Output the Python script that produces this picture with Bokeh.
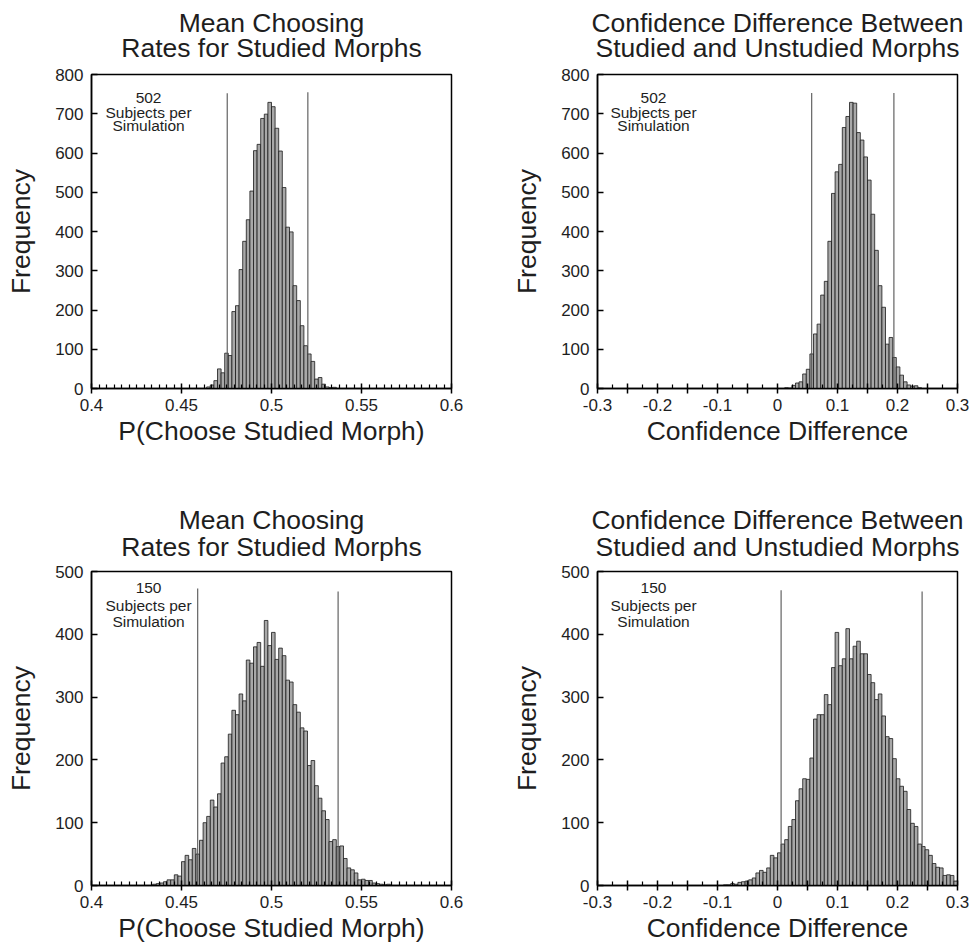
from bokeh.plotting import figure
from bokeh.models import Range1d, FixedTicker, Label
from bokeh.layouts import row, column
from bokeh.core.properties import value
from bokeh.embed import file_html
from bokeh.resources import INLINE

FONT = "Liberation Sans"
TXT = "#1e1e1e"

# ---------------- data ----------------
# P(choose studied morph), 502 subjects per simulation; bins of 0.002 starting at 0.464
choose502_bin = 0.002
choose502_start = 0.464
choose502_counts = [4, 9, 20, 50, 40, 90, 84, 196, 211, 303, 375, 430, 503, 606, 622, 688, 699, 729,
                    718, 663, 605, 512, 411, 399, 262, 224, 160, 109, 88, 69, 24, 28, 11, 4, 2, 3]
choose502_ci = [0.4754, 0.5202]
choose502_ci_top = [752, 755]

# Confidence difference, 502 subjects; bins of 0.006 starting at 0.012
conf502_bin = 0.006
conf502_start = 0.012
conf502_counts = [2, 1, 8, 14, 17, 37, 49, 88, 139, 164, 238, 273, 375, 497, 552, 571, 665, 693, 729,
                  727, 652, 633, 590, 531, 444, 352, 262, 207, 113, 130, 79, 55, 34, 17, 9, 6, 7, 2]
conf502_ci = [0.057, 0.194]
conf502_ci_top = [753, 753]

# P(choose studied morph), 150 subjects; bins of 0.002 starting at 0.434
choose150_bin = 0.002
choose150_start = 0.434
choose150_counts = [2, 3, 4, 6, 9, 9, 17, 15, 38, 48, 41, 59, 50, 72, 100, 110, 136, 125, 146, 195, 205,
                    241, 279, 272, 305, 294, 359, 354, 380, 387, 349, 422, 382, 403, 360, 378, 366, 327,
                    324, 288, 276, 251, 246, 191, 199, 159, 139, 119, 105, 70, 73, 62, 63, 43, 28, 25,
                    20, 9, 10, 8, 8, 4, 3, 2, 1, 2]
choose150_ci = [0.459, 0.537]
choose150_ci_top = [473, 468]

# Confidence difference, 150 subjects; bins of 0.006 starting at -0.09
conf150_bin = 0.006
conf150_start = -0.09
conf150_counts = [1, 1, 3, 2, 5, 6, 7, 9, 12, 20, 24, 21, 28, 48, 44, 52, 66, 73, 94, 105, 135, 154, 170,
                  169, 203, 265, 272, 272, 304, 288, 347, 403, 350, 361, 409, 361, 381, 389, 369, 369,
                  336, 323, 296, 305, 270, 237, 234, 202, 170, 158, 150, 121, 99, 94, 66, 62, 57, 48,
                  35, 29, 28, 16, 17, 16, 7]
conf150_ci = [0.006, 0.241]
conf150_ci_top = [470, 468]

# axes / tick labels
choose_ticks = [0.4, 0.45, 0.5, 0.55, 0.6]
choose_tick_labels = ["0.4", "0.45", "0.5", "0.55", "0.6"]
conf_ticks = [-0.3, -0.25, -0.2, -0.15, -0.1, -0.05, 0.0, 0.05, 0.1, 0.15, 0.2, 0.25, 0.3]
conf_tick_labels = ["-0.3", "", "-0.2", "", "-0.1", "", "0", "", "0.1", "", "0.2", "", "0.3"]
y_ticks_top = [0, 100, 200, 300, 400, 500, 600, 700, 800]
y_ticks_bottom = [0, 100, 200, 300, 400, 500]

title_choose = ["Mean Choosing", "Rates for Studied Morphs"]
title_conf = ["Confidence Difference Between", "Studied and Unstudied Morphs"]
xlabel_choose = "P(Choose Studied Morph)"
xlabel_conf = "Confidence Difference"
ylabel = "Frequency"
note_lines_502 = ["502", "Subjects per", "Simulation"]
note_lines_150 = ["150", "Subjects per", "Simulation"]

LW, RW = 485, 486


def make_title(lines, width, height, xcenter, baselines):
    t = figure(width=width, height=height, output_backend="svg", toolbar_location=None,
               x_range=Range1d(0, width), y_range=Range1d(0, height),
               x_axis_type=None, y_axis_type=None,
               min_border_left=0, min_border_right=0, min_border_top=0, min_border_bottom=0)
    t.grid.visible = False
    t.outline_line_color = None
    t.background_fill_color = "white"
    t.border_fill_color = "white"
    t.text(x=[xcenter] * len(lines), y=baselines, text=lines, text_align="center",
           text_baseline="alphabetic", text_font=value(FONT), text_font_size=value("26.5px"),
           text_color=TXT)
    return t


def make_panel(kind, start, binw, counts, ci, ci_top, ymax, yticks, note_lines, note_y,
               width, height, mb_left, mb_right, mb_top, mb_bottom):
    if kind == "choose":
        xr = (0.4, 0.6)
        ticks, labels = choose_ticks, choose_tick_labels
        minor = [0.4 + i * (0.05 / 12) for i in range(49) if i % 12 != 0]
        xlabel = xlabel_choose
        note_x = 0.4317
    else:
        xr = (-0.3, 0.3)
        ticks, labels = conf_ticks, conf_tick_labels
        minor = [-0.3 + 0.025 * (2 * i + 1) for i in range(12)]
        xlabel = xlabel_conf
        note_x = -0.2067

    p = figure(width=width, height=height, output_backend="svg", toolbar_location=None,
               x_range=Range1d(*xr), y_range=Range1d(0, ymax),
               min_border_left=mb_left, min_border_right=mb_right,
               min_border_top=mb_top, min_border_bottom=mb_bottom)
    p.background_fill_color = "white"
    p.border_fill_color = "white"
    p.outline_line_color = "black"
    p.outline_line_width = 1.5
    p.grid.visible = False

    lefts = [start + i * binw for i in range(len(counts))]
    rights = [l + binw for l in lefts]
    p.quad(left=lefts, right=rights, bottom=0, top=counts,
           fill_color="#a8a8a8", line_color="#1a1a1a", line_width=0.8)

    p.segment(x0=ci, y0=[0, 0], x1=ci, y1=ci_top, line_color="#555555", line_width=1.1)

    for txt, yv in zip(note_lines, note_y):
        p.add_layout(Label(x=note_x, y=yv, text=txt, text_align="center", text_baseline="middle",
                           text_font=FONT, text_font_size="15.5px", text_color=TXT))

    xa = p.xaxis[0]
    xa.ticker = FixedTicker(ticks=ticks, minor_ticks=minor)
    xa.major_label_overrides = dict(zip(ticks, labels))
    xa.axis_label = xlabel
    xa.axis_label_text_font = FONT
    xa.axis_label_text_font_size = "26.5px"
    xa.axis_label_text_font_style = "normal"
    xa.axis_label_text_color = TXT
    xa.axis_label_standoff = 2
    xa.major_label_text_font = FONT
    xa.major_label_text_font_size = "17px"
    xa.major_label_text_color = TXT
    xa.major_label_standoff = 5
    xa.major_tick_in = 5
    xa.major_tick_out = 5
    xa.minor_tick_in = 4
    xa.minor_tick_out = 0
    xa.axis_line_width = 1.5
    xa.major_tick_line_width = 1.5
    xa.minor_tick_line_width = 1.2

    ya = p.yaxis[0]
    ya.ticker = FixedTicker(ticks=yticks, minor_ticks=[])
    ya.axis_label = ylabel
    ya.axis_label_text_font = FONT
    ya.axis_label_text_font_size = "26.5px"
    ya.axis_label_text_font_style = "normal"
    ya.axis_label_text_color = TXT
    ya.axis_label_standoff = 16
    ya.major_label_text_font = FONT
    ya.major_label_text_font_size = "17px"
    ya.major_label_text_color = TXT
    ya.major_label_standoff = 8
    ya.major_tick_in = 6
    ya.major_tick_out = 0
    ya.minor_tick_line_color = None
    ya.axis_line_width = 1.5
    ya.major_tick_line_width = 1.3
    return p


# title strips (64 and 81 px) and plot panels (416 and 384 px): total 945
t1 = make_title(title_choose, LW, 64, 271, [42, 17])
t2 = make_title(title_conf, RW, 64, 292, [42, 17])
p1 = make_panel("choose", choose502_start, choose502_bin, choose502_counts, choose502_ci, choose502_ci_top,
                800, y_ticks_top, note_lines_502, [741, 703, 670],
                LW, 416, 91, 34, 10, 92)
p2 = make_panel("conf", conf502_start, conf502_bin, conf502_counts, conf502_ci, conf502_ci_top,
                800, y_ticks_top, note_lines_502, [741, 703, 670],
                RW, 416, 112, 14, 10, 92)
t3 = make_title(title_choose, LW, 81, 271, [42, 15])
t4 = make_title(title_conf, RW, 81, 292, [42, 15])
p3 = make_panel("choose", choose150_start, choose150_bin, choose150_counts, choose150_ci, choose150_ci_top,
                500, y_ticks_bottom, note_lines_150, [473, 446, 421],
                LW, 384, 91, 34, 10, 60)
p4 = make_panel("conf", conf150_start, conf150_bin, conf150_counts, conf150_ci, conf150_ci_top,
                500, y_ticks_bottom, note_lines_150, [473, 446, 421],
                RW, 384, 112, 14, 10, 60)

layout = column(row(t1, t2), row(p1, p2), row(t3, t4), row(p3, p4))
open("out.html", "w").write(file_html(layout, INLINE))
